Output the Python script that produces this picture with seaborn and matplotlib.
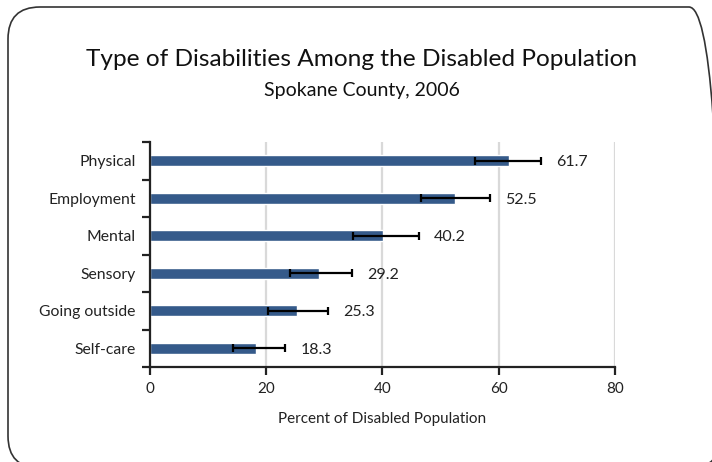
import numpy as np
import pandas as pd
import seaborn as sns
import matplotlib.pyplot as plt
from matplotlib.patches import FancyBboxPatch
from matplotlib.transforms import IdentityTransform

# data
categories = ['Physical', 'Employment', 'Mental', 'Sensory', 'Going outside', 'Self-care']
percent = [61.7, 52.5, 40.2, 29.2, 25.3, 18.3]
lower = [56.0, 46.7, 34.9, 24.1, 20.3, 14.3]
upper = [67.3, 58.5, 46.3, 34.8, 30.7, 23.3]
xticks = [0, 20, 40, 60, 80]

df = pd.DataFrame({'type': categories, 'pct': percent})

sns.set_style('white')
plt.rcParams['font.family'] = ['Lato', 'DejaVu Sans']

fig = plt.figure(figsize=(7.12, 4.62), dpi=100)
ax = fig.add_axes([0.21, 0.2056, 0.6538, 0.487])

sns.barplot(data=df, x='pct', y='type', orient='h', color='#355a8a',
            width=0.3, saturation=1, ax=ax)

# error bars
pos = np.arange(len(categories))
err = [np.array(percent) - np.array(lower), np.array(upper) - np.array(percent)]
ax.errorbar(percent, pos, xerr=err, fmt='none', ecolor='black',
            elinewidth=1.6, capsize=3.2, capthick=1.6, zorder=3)

# value labels
for i, v in enumerate(percent):
    ax.text(upper[i] + 2.6, i + 0.04, f'{v:.1f}', va='center', ha='left',
            fontsize=11.5, color='#222222')

ax.set_xlim(0, 80)
ax.set_ylim(len(categories) - 0.5, -0.5)
ax.set_xticks(xticks)
ax.set_xticklabels([str(t) for t in xticks], fontsize=11, color='#222222')

# y ticks sit between categories, labels at category centres
ax.set_yticks(np.arange(-0.5, len(categories), 1.0))
ax.set_yticklabels([])
ax.set_yticks(pos, minor=True)
ax.set_yticklabels(categories, minor=True, fontsize=11.3, color='#222222')
ax.tick_params(axis='y', which='minor', length=0, pad=10)
ax.tick_params(axis='y', which='major', length=6, width=1.6, direction='out',
               color='#222222', left=True)
ax.tick_params(axis='x', length=6, width=1.6, direction='out', color='#222222',
               bottom=True, pad=5)

ax.grid(axis='x', color='#d9d9d9', linewidth=1.6)
ax.set_axisbelow(True)
for s in ['top', 'right']:
    ax.spines[s].set_visible(False)
for s in ['left', 'bottom']:
    ax.spines[s].set_color('#222222')
    ax.spines[s].set_linewidth(1.6)

ax.set_xlabel('Percent of Disabled Population', fontsize=11, color='#222222', labelpad=11)
ax.set_ylabel('')

fig.text(0.508, 0.872, 'Type of Disabilities Among the Disabled Population',
         ha='center', va='center', fontsize=17.6, color='#111111')
fig.text(0.508, 0.805, 'Spokane County, 2006', ha='center', va='center',
         fontsize=14, color='#111111')

# rounded frame, right and bottom edges run off the image
frame = FancyBboxPatch((8, -6), 713, 461,
                       boxstyle='round,pad=0,rounding_size=32',
                       transform=IdentityTransform(), fill=False,
                       edgecolor='#333333', linewidth=1.2)
fig.patches.append(frame)

fig.savefig('out.png', dpi=100)
